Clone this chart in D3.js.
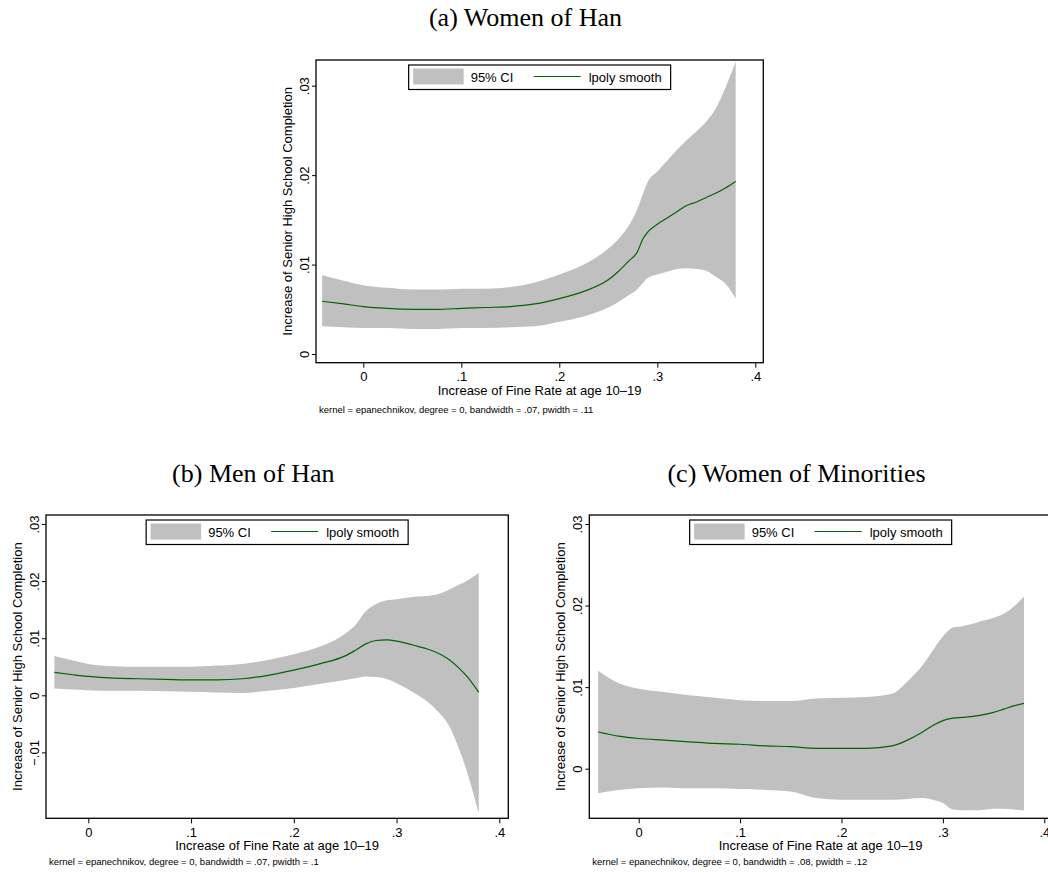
<!DOCTYPE html>
<html>
<head>
<meta charset="utf-8">
<script src="https://cdn.jsdelivr.net/npm/d3@7"></script>
<style>
  body { margin: 0; background: #fff; }
  svg { display: block; }
  .sans { font-family: "Liberation Sans", Arial, Helvetica, sans-serif; }
  .serif { font-family: "Liberation Serif", "Times New Roman", serif; }
</style>
</head>
<body>
<div id="chart"></div>
<script>
// ---- data ----
var panelTitles = ["(a) Women of Han", "(b) Men of Han", "(c) Women of Minorities"];
var legendLabels = ["95% CI", "lpoly smooth"];
var xTicks = [0, 0.1, 0.2, 0.3, 0.4];
var xTickLabels = ["0", ".1", ".2", ".3", ".4"];
var yTicksA = [0, 0.01, 0.02, 0.03];
var yTickLabelsA = ["0", ".01", ".02", ".03"];
var yTicksB = [-0.01, 0, 0.01, 0.02, 0.03];
var yTickLabelsB = ["\u2212.01", "0", ".01", ".02", ".03"];
var yTicksC = [0, 0.01, 0.02, 0.03];
var yTickLabelsC = ["0", ".01", ".02", ".03"];
var xTitle = "Increase of Fine Rate at age 10\u201319";
var yTitle = "Increase of Senior High School Completion";
var notes = [
  "kernel = epanechnikov, degree = 0, bandwidth = .07, pwidth = .11",
  "kernel = epanechnikov, degree = 0, bandwidth = .07, pwidth = .1",
  "kernel = epanechnikov, degree = 0, bandwidth = .08, pwidth = .12"
];

// panel (a) Women of Han
var xA     = [-0.042, -0.02, 0, 0.025, 0.05, 0.075, 0.1, 0.125, 0.15, 0.175, 0.2, 0.225, 0.25, 0.26, 0.27, 0.28, 0.285, 0.29, 0.3, 0.31, 0.32, 0.33, 0.34, 0.35, 0.36, 0.37, 0.38];
var upperA = [0.0088, 0.0082, 0.0077, 0.0074, 0.0072, 0.0072, 0.0073, 0.0073, 0.0075, 0.0080, 0.0089, 0.0100, 0.0118, 0.0128, 0.0142, 0.0163, 0.0178, 0.0192, 0.0204, 0.0216, 0.0228, 0.0239, 0.0249, 0.0260, 0.0275, 0.0299, 0.0327];
var fitA   = [0.0059, 0.0056, 0.0053, 0.0051, 0.0050, 0.0050, 0.0051, 0.0052, 0.0053, 0.0056, 0.0062, 0.0070, 0.0083, 0.0092, 0.0103, 0.0115, 0.0128, 0.0136, 0.0145, 0.0152, 0.0159, 0.0166, 0.0170, 0.0175, 0.0180, 0.0186, 0.0193];
var lowerA = [0.0031, 0.0030, 0.0029, 0.0029, 0.0028, 0.0028, 0.0029, 0.0029, 0.0030, 0.0031, 0.0036, 0.0042, 0.0052, 0.0058, 0.0065, 0.0073, 0.0079, 0.0085, 0.0089, 0.0092, 0.0095, 0.0096, 0.0095, 0.0093, 0.0086, 0.0078, 0.0062];

// panel (b) Men of Han
var xB     = [-0.033, -0.015, 0, 0.025, 0.05, 0.075, 0.1, 0.125, 0.15, 0.175, 0.2, 0.225, 0.25, 0.26, 0.27, 0.28, 0.29, 0.3, 0.31, 0.32, 0.33, 0.34, 0.35, 0.36, 0.37, 0.38];
var upperB = [0.0069, 0.0061, 0.0055, 0.0051, 0.0050, 0.0050, 0.0050, 0.0052, 0.0055, 0.0062, 0.0072, 0.0085, 0.0108, 0.0123, 0.0147, 0.0160, 0.0166, 0.0168, 0.0171, 0.0173, 0.0174, 0.0177, 0.0184, 0.0193, 0.0202, 0.0214];
var fitB   = [0.0040, 0.0036, 0.0033, 0.0030, 0.0029, 0.0028, 0.0027, 0.0027, 0.0029, 0.0035, 0.0044, 0.0055, 0.0069, 0.0079, 0.0090, 0.0096, 0.0097, 0.0095, 0.0091, 0.0086, 0.0081, 0.0074, 0.0064, 0.0049, 0.0030, 0.0005];
var lowerB = [0.0012, 0.0010, 0.0009, 0.0008, 0.0008, 0.0007, 0.0006, 0.0005, 0.0004, 0.0008, 0.0013, 0.0020, 0.0027, 0.0030, 0.0033, 0.0032, 0.0029, 0.0021, 0.0012, 0.0001, -0.0011, -0.0028, -0.0050, -0.0090, -0.0142, -0.0207];

// panel (c) Women of Minorities
var xC     = [-0.04, -0.02, 0, 0.025, 0.05, 0.075, 0.1, 0.125, 0.15, 0.175, 0.2, 0.225, 0.25, 0.265, 0.28, 0.29, 0.3, 0.31, 0.32, 0.335, 0.35, 0.36, 0.37, 0.38];
var upperC = [0.0120, 0.0105, 0.0098, 0.0094, 0.0090, 0.0087, 0.0084, 0.0083, 0.0083, 0.0086, 0.0087, 0.0088, 0.0092, 0.0107, 0.0127, 0.0145, 0.0162, 0.0173, 0.0175, 0.0180, 0.0185, 0.0190, 0.0199, 0.0211];
var fitC   = [0.0045, 0.0040, 0.0037, 0.0035, 0.0033, 0.0031, 0.0030, 0.0028, 0.0027, 0.0025, 0.0025, 0.0025, 0.0028, 0.0035, 0.0045, 0.0053, 0.0059, 0.0062, 0.0063, 0.0065, 0.0069, 0.0073, 0.0077, 0.0080];
var lowerC = [-0.0030, -0.0026, -0.0024, -0.0023, -0.0024, -0.0024, -0.0025, -0.0026, -0.0028, -0.0036, -0.0038, -0.0038, -0.0038, -0.0037, -0.0036, -0.0038, -0.0042, -0.0050, -0.0051, -0.0051, -0.0049, -0.0049, -0.0050, -0.0051];

var svgWidth = 1048;
var svgHeight = 873;

var svg = d3.select("#chart")
  .append("svg")
  .attr("width", svgWidth)
  .attr("height", svgHeight);

// layout of each panel: frame box, pixel spots of x=0/.4 and y=0/.03
var panels = [
  { title: panelTitles[0], titleX: 525.5, titleY: 26,
    frame: [316, 60, 763.3, 362.7], xr: [363.3, 755.3], yr: [354, 85.7],
    yTicks: yTicksA, yTickLabels: yTickLabelsA, note: notes[0], noteDy: 50,
    xs: xA, upper: upperA, fit: fitA, lower: lowerA },
  { title: panelTitles[1], titleX: 253.3, titleY: 481.7,
    frame: [46, 515, 508.3, 818.3], xr: [88.3, 499.3], yr: [695.3, 524],
    yTicks: yTicksB, yTickLabels: yTickLabelsB, note: notes[1], noteDy: 47,
    xs: xB, upper: upperB, fit: fitB, lower: lowerB },
  { title: panelTitles[2], titleX: 796.5, titleY: 481.7,
    frame: [589.3, 515, 1052, 818.3], xr: [638.7, 1044.3], yr: [768.7, 524],
    yTicks: yTicksC, yTickLabels: yTickLabelsC, note: notes[2], noteDy: 47,
    xs: xC, upper: upperC, fit: fitC, lower: lowerC }
];

panels.forEach(function(p) {
  var fl = p.frame[0], ft = p.frame[1], fr = p.frame[2], fb = p.frame[3];
  var x = d3.scaleLinear().domain([0, 0.4]).range(p.xr);
  var y = d3.scaleLinear().domain([0, 0.03]).range(p.yr);

  var rows = p.xs.map(function(v, i) {
    return { x: v, lo: p.lower[i], fit: p.fit[i], hi: p.upper[i] };
  });

  var g = svg.append("g");

  // title
  svg.append("text")
    .attr("class", "serif")
    .attr("x", p.titleX)
    .attr("y", p.titleY)
    .attr("text-anchor", "middle")
    .style("font-size", "26px")
    .attr("fill", "#000")
    .text(p.title);

  // CI band
  var area = d3.area()
    .x(function(d) { return x(d.x); })
    .y0(function(d) { return y(d.lo); })
    .y1(function(d) { return y(d.hi); })
    .curve(d3.curveMonotoneX);

  g.append("path")
    .datum(rows)
    .attr("d", area)
    .attr("fill", "#c0c0c0");

  // smooth line
  var line = d3.line()
    .x(function(d) { return x(d.x); })
    .y(function(d) { return y(d.fit); })
    .curve(d3.curveMonotoneX);

  g.append("path")
    .datum(rows)
    .attr("d", line)
    .attr("fill", "none")
    .attr("stroke", "#006400")
    .attr("stroke-width", 1.2);

  // frame
  g.append("rect")
    .attr("x", fl).attr("y", ft)
    .attr("width", fr - fl).attr("height", fb - ft)
    .attr("fill", "none")
    .attr("stroke", "#000")
    .attr("stroke-width", 1.3);

  // x axis
  var bottomAxis = d3.axisBottom(x)
    .tickValues(xTicks)
    .tickFormat(function(d, i) { return xTickLabels[i]; })
    .tickSize(5)
    .tickPadding(4);

  var xg = g.append("g")
    .attr("class", "sans")
    .attr("transform", "translate(0," + fb + ")")
    .call(bottomAxis);
  xg.select(".domain").remove();
  xg.selectAll("text").style("font-size", "13px").attr("fill", "#000");

  // y axis (labels rotated like Stata)
  var leftAxis = d3.axisLeft(y)
    .tickValues(p.yTicks)
    .tickFormat(function(d, i) { return p.yTickLabels[i]; })
    .tickSize(4);

  var yg = g.append("g")
    .attr("class", "sans")
    .attr("transform", "translate(" + fl + ",0)")
    .call(leftAxis);
  yg.select(".domain").remove();
  yg.selectAll("text")
    .style("font-size", "13px")
    .attr("fill", "#000")
    .attr("x", null).attr("dy", null)
    .attr("text-anchor", "middle")
    .attr("transform", "translate(-7,0) rotate(-90)");

  // axis titles
  g.append("text")
    .attr("class", "sans")
    .attr("x", (fl + Math.min(fr, svgWidth + 4)) / 2)
    .attr("y", fb + 32)
    .attr("text-anchor", "middle")
    .style("font-size", "13px")
    .text(xTitle);

  g.append("text")
    .attr("class", "sans")
    .attr("transform", "translate(" + (fl - 24) + "," + ((ft + fb) / 2) + ") rotate(-90)")
    .attr("text-anchor", "middle")
    .style("font-size", "13px")
    .text(yTitle);

  // note
  g.append("text")
    .attr("class", "sans")
    .attr("x", fl + 3)
    .attr("y", fb + p.noteDy)
    .style("font-size", "9.5px")
    .text(p.note);

  // legend
  var lw = 262, lh = 24.5;
  var lx = (fl + fr) / 2 - lw / 2, ly = ft + 5;
  var leg = g.append("g").attr("transform", "translate(" + lx + "," + ly + ")");
  leg.append("rect")
    .attr("width", lw).attr("height", lh)
    .attr("fill", "#fff")
    .attr("stroke", "#000")
    .attr("stroke-width", 1.2);
  leg.append("rect")
    .attr("x", 4.5).attr("y", 3.5)
    .attr("width", 50.5).attr("height", 16)
    .attr("fill", "#c0c0c0");
  leg.append("text")
    .attr("class", "sans")
    .attr("x", 62).attr("y", 17.3)
    .style("font-size", "13px")
    .text(legendLabels[0]);
  leg.append("line")
    .attr("x1", 125).attr("x2", 172)
    .attr("y1", 11.5).attr("y2", 11.5)
    .attr("stroke", "#006400")
    .attr("stroke-width", 1.2);
  leg.append("text")
    .attr("class", "sans")
    .attr("x", 180).attr("y", 17.3)
    .style("font-size", "13px")
    .text(legendLabels[1]);
});
</script>
</body>
</html>
